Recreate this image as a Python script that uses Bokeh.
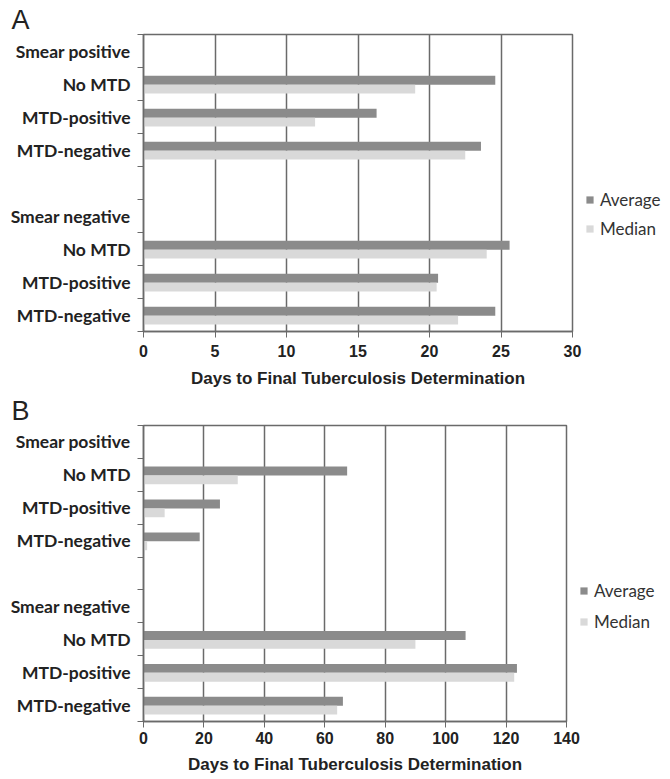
from bokeh.plotting import figure
from bokeh.models import Range1d, FixedTicker, Legend, LegendItem, ColumnDataSource
from bokeh.layouts import column
from bokeh.embed import file_html
from bokeh.resources import INLINE

# ---- data ----
slot_labels = ["Smear positive", "No MTD", "MTD-positive", "MTD-negative", "",
               "Smear negative", "No MTD", "MTD-positive", "MTD-negative"]
bar_slots = [1, 2, 3, 6, 7, 8]          # slots (from top) holding bars
a_average = [24.6, 16.3, 23.6, 25.6, 20.6, 24.6]
a_median = [19.0, 12.0, 22.5, 24.0, 20.5, 22.0]
b_average = [67.4, 25.3, 18.6, 106.6, 123.6, 66.0]
b_median = [31.2, 7.0, 1.2, 90.0, 122.7, 64.1]
a_ticks = [0, 5, 10, 15, 20, 25, 30]
b_ticks = [0, 20, 40, 60, 80, 100, 120, 140]
x_title = "Days to Final Tuberculosis Determination"

DARK = "#8b8b8b"
LIGHT = "#d9d9d9"
GRID = "#6a6a6a"
LABEL_FONT = "Lato"
NUM_FONT = "Liberation Sans"


def make_panel(letter, avg, med, ticks, xmax, fw, fh, top, bottom, leg_y,
               tick_standoff, title_standoff, leg_spacing):
    p = figure(frame_width=fw, frame_height=fh, output_backend="svg", toolbar_location=None,
               x_range=Range1d(0, xmax), y_range=Range1d(len(slot_labels), 0),
               min_border_left=143, min_border_right=0, min_border_top=top,
               min_border_bottom=bottom)
    p.title.text = letter
    p.title.text_font = "Liberation Sans"
    p.title.text_font_size = "27px"
    p.title.text_font_style = "normal"
    p.title.text_color = "#222222"
    p.title.offset = -132
    p.title.standoff = 0

    src = ColumnDataSource(dict(
        y_avg=[s + 0.385 for s in bar_slots],
        y_med=[s + 0.655 for s in bar_slots],
        avg=avg, med=med))
    r1 = p.hbar(y="y_avg", right="avg", left=0, height=0.27, source=src,
                fill_color=DARK, line_color=None)
    r2 = p.hbar(y="y_med", right="med", left=0, height=0.27, source=src,
                fill_color=LIGHT, line_color=None)

    # axes
    p.xaxis.ticker = FixedTicker(ticks=ticks)
    p.xaxis.axis_label = x_title
    p.xaxis.axis_label_text_font = NUM_FONT
    p.xaxis.axis_label_text_font_style = "bold"
    p.xaxis.axis_label_text_font_size = "17px"
    p.xaxis.axis_label_text_color = "#222222"
    p.xaxis.axis_label_standoff = title_standoff
    p.xaxis.major_label_text_font = NUM_FONT
    p.xaxis.major_label_text_font_style = "bold"
    p.xaxis.major_label_text_font_size = "16px"
    p.xaxis.major_label_text_color = "#222222"
    p.xaxis.major_label_standoff = tick_standoff
    p.xaxis.major_tick_in = 5
    p.xaxis.major_tick_out = 6
    p.xaxis.minor_tick_line_color = None
    p.xaxis.axis_line_color = GRID
    p.xaxis.major_tick_line_color = GRID
    p.xaxis.axis_line_width = 1.5

    centers = [i + 0.5 for i in range(len(slot_labels))]
    bounds = [float(i) for i in range(len(slot_labels) + 1)]
    p.yaxis.ticker = FixedTicker(ticks=centers, minor_ticks=bounds)
    p.yaxis.major_label_overrides = {c: lab for c, lab in zip(centers, slot_labels)}
    p.yaxis.major_tick_line_color = None
    p.yaxis.minor_tick_in = 0
    p.yaxis.minor_tick_out = 6
    p.yaxis.minor_tick_line_color = GRID
    p.yaxis.axis_line_color = GRID
    p.yaxis.axis_line_width = 1.5
    p.yaxis.major_label_text_font = LABEL_FONT
    p.yaxis.major_label_text_font_style = "bold"
    p.yaxis.major_label_text_font_size = "17.5px"
    p.yaxis.major_label_text_color = "#222222"
    p.yaxis.major_label_standoff = 7

    p.xgrid.ticker = FixedTicker(ticks=ticks)
    p.xgrid.grid_line_color = GRID
    p.xgrid.grid_line_width = 1.5
    p.ygrid.grid_line_color = None
    p.outline_line_color = GRID
    p.outline_line_width = 1.5

    legend = Legend(items=[LegendItem(label="Average", renderers=[r1]),
                           LegendItem(label="Median", renderers=[r2])],
                    location=(13, leg_y), border_line_color=None,
                    background_fill_alpha=0,
                    label_text_font=LABEL_FONT, label_text_font_size="17px",
                    label_text_color="#333333", glyph_width=9, glyph_height=9,
                    label_height=20, spacing=leg_spacing, padding=2, margin=13,
                    label_standoff=6)
    p.add_layout(legend, "right")
    return p


pa = make_panel("A", a_average, a_median, a_ticks, 30, 429, 297, 34, 62, 92, 7, 9, 8)
pb = make_panel("B", b_average, b_median, b_ticks, 140, 423, 296, 31, 50, 89, 4, 8, 10)

layout = column(pa, pb, spacing=0)
open("out.html", "w").write(file_html(layout, INLINE))
